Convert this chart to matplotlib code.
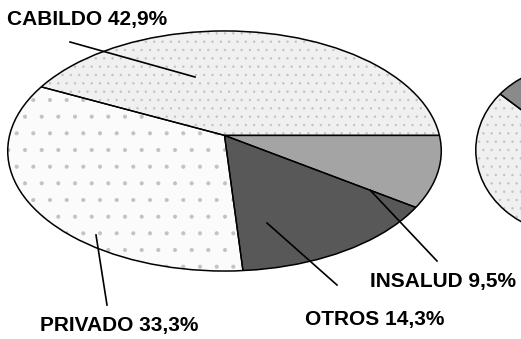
import matplotlib
matplotlib.use("Agg")
import matplotlib.pyplot as plt

# data (clockwise from 3 o'clock)
labels = ["INSALUD", "OTROS", "PRIVADO", "CABILDO"]
values = [9.5, 14.3, 33.3, 42.9]
colors = ["#a4a4a4", "#585858", "#fbfbfb", "#f0f0f0"]
hatches = ["", "", ".", ".."]

# second (cut off) pie on the right edge
values2 = [9.0, 91.0]
colors2 = ["#8a8a8a", "#f0f0f0"]
hatches2 = ["", ".."]

# label layout in pixels (text x, y, line start, line end)
label_pos = {
    "CABILDO": ((7, 20), (195, 77), (70, 42)),
    "PRIVADO": ((40, 325), (96, 235), (107, 305)),
    "OTROS": ((305, 320), (267, 223), (337, 285)),
    "INSALUD": ((370, 281), (370, 190), (437, 261)),
}

plt.rcParams["hatch.linewidth"] = 0.5

W, H = 521, 339
fig = plt.figure(figsize=(W / 100, H / 100), dpi=100)


def squashed_pie(ax, vals, cols, hats, start, apex):
    # fill pass (hatch drawn in light grey), then outline pass, both clipped to the ellipse
    outline = plt.Circle((0, 0), 1.0, fill=False, edgecolor="black", lw=1.1)
    clip = plt.Circle((0, 0), 1.0, transform=ax.transData)
    fills, _ = ax.pie(vals, colors=cols, startangle=start, counterclock=False,
                      center=apex, radius=1.6,
                      wedgeprops=dict(edgecolor="#c2c2c2", linewidth=0))
    for w, h in zip(fills, hats):
        w.set_hatch(h)
        w.set_clip_on(True)
        w.set_clip_path(clip)
    lines, _ = ax.pie(vals, colors=["none"] * len(vals), startangle=start,
                      counterclock=False, center=apex, radius=1.6,
                      wedgeprops=dict(edgecolor="black", linewidth=1.0))
    for w in lines:
        w.set_clip_on(True)
        w.set_clip_path(clip)
    ax.add_patch(outline)
    ax.set_aspect("auto")
    ax.set_xlim(-1.008, 1.008)
    ax.set_ylim(-1.008, 1.008)
    ax.axis("off")


# main pie, squashed into an ellipse
ax = fig.add_axes([6 / W, 1 - 272 / H, 437 / W, 242 / H])
squashed_pie(ax, values, colors, hatches, 0, (0, 0.13))

# partial second pie
ax2 = fig.add_axes([475 / W, 1 - 236 / H, 200 / W, 172 / H])
squashed_pie(ax2, values2, colors2, hatches2, 139, (0, 0))

# overlay for labels, pixel coords
ov = fig.add_axes([0, 0, 1, 1], facecolor="none")
ov.set_xlim(0, W)
ov.set_ylim(H, 0)
ov.axis("off")

for lab, val in zip(labels, values):
    (tx, ty), p0, p1 = label_pos[lab]
    ov.plot([p0[0], p1[0]], [p0[1], p1[1]], color="black", lw=1.2)
    txt = f"{lab} {val:.1f}%".replace(".", ",")
    ov.text(tx, ty, txt, ha="left", va="center", fontsize=15,
            fontweight="bold", family=["Liberation Sans", "DejaVu Sans"])

fig.savefig("out.png", dpi=100)
